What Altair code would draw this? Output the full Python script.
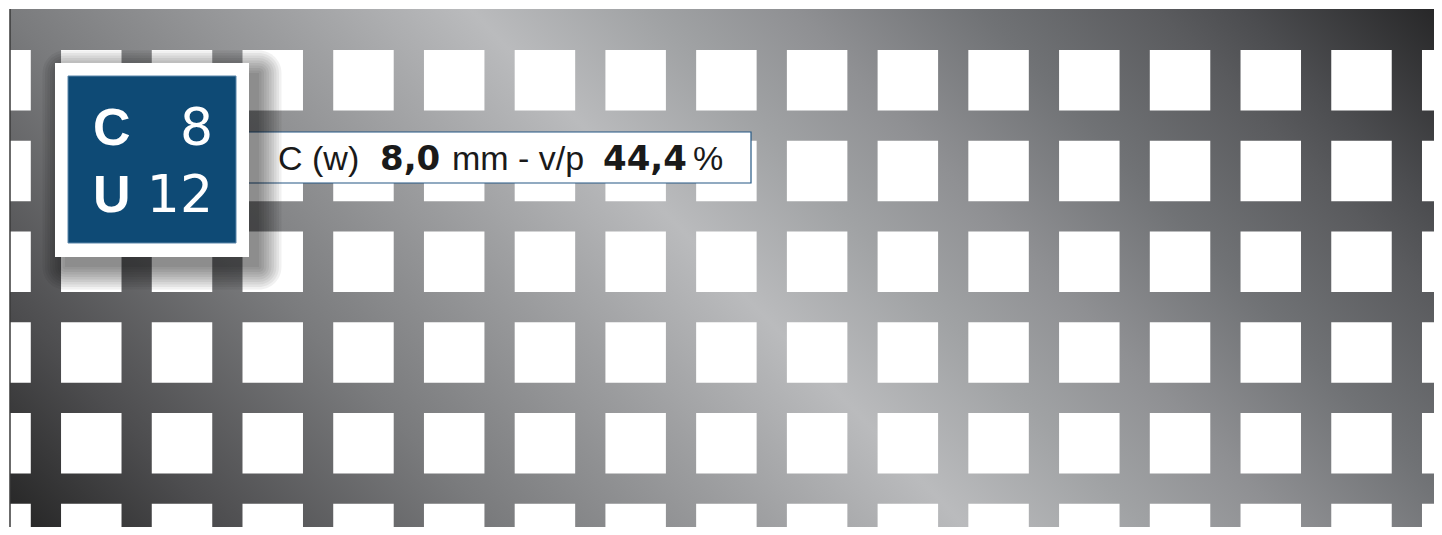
import altair as alt
import pandas as pd

# ---- data (millimetres on the plate) ----
hole_cols = [-5.25, 6.75, 18.75, 30.75, 42.75, 54.75, 66.75, 78.75, 90.75,
             102.75, 114.75, 126.75, 138.75, 150.75, 162.75, 174.75, 186.75]
hole_rows = [5.42, 17.42, 29.42, 41.42, 53.42, 65.42]
hole_size = 8.0
plate_w = 189.4
plate_h = 69.6

badge_lines = [("C", "8"), ("U", "12")]
label_parts = ["C (w)", "8,0", "mm - v/p", "44,4", "%"]
label_bold = [False, True, False, True, False]

# ---- tables ----
holes = pd.DataFrame(
    [{"x": c, "x2": c + hole_size, "y": r, "y2": r + hole_size} for r in hole_rows for c in hole_cols]
)
plate = pd.DataFrame({"x": [0.0], "x2": [plate_w], "y": [0.0], "y2": [plate_h]})
one = pd.DataFrame({"a": [0]})

PX = 90.73 / 12
W, H = 1426, 519
xs = alt.Scale(domain=[-2 / PX, (W - 2) / PX], nice=False, zero=False)
ys = alt.Scale(domain=[-1 / PX, (H - 1) / PX], nice=False, zero=False, reverse=True)

stops = [(0.0, "#232323"), (0.114, "#4d4d4f"), (0.257, "#7a7b7d"), (0.402, "#a0a1a3"),
         (0.498, "#babbbd"), (0.591, "#a0a2a4"), (0.665, "#8f9093"), (0.761, "#707275"),
         (0.853, "#5a5b5e"), (0.896, "#4c4d50"), (1.0, "#262627")]
grad = alt.LinearGradient(
    gradient="linear",
    stops=[alt.GradientStop(offset=o, color=c) for o, c in stops],
    x1=0, y1=1, x2=1.2028, y2=0.5772,
)

plate_layer = alt.Chart(plate).mark_rect(fill=grad, clip=True).encode(
    x=alt.X("x:Q", scale=xs, axis=None), x2="x2",
    y=alt.Y("y:Q", scale=ys, axis=None), y2="y2",
)
edge_layer = alt.Chart(plate).mark_rule(color="#3a3a3a", strokeWidth=1.5, clip=True).encode(
    x=alt.X("x:Q", scale=xs, axis=None),
    y=alt.Y("y:Q", scale=ys, axis=None), y2="y2",
)
hole_layer = alt.Chart(holes).mark_rect(fill="white", clip=True).encode(
    x=alt.X("x:Q", scale=xs, axis=None), x2="x2",
    y=alt.Y("y:Q", scale=ys, axis=None), y2="y2",
)

layers = [plate_layer, hole_layer, edge_layer]

# label box
layers.append(alt.Chart(one).mark_rect(fill="white", stroke="#245783", strokeWidth=1.2).encode(
    x=alt.value(236), x2=alt.value(743), y=alt.value(124), y2=alt.value(175)))
label_x = [270, 372, 444, 595, 685]
for txt, bold, lx in zip(label_parts, label_bold, label_x):
    layers.append(alt.Chart(one).mark_text(
        text=txt,
        font="DejaVu Sans" if bold else "Liberation Sans",
        fontSize=34,
        fontWeight="bold" if bold else "normal", color="#1a1a1a",
        align="left", baseline="alphabetic").encode(x=alt.value(lx), y=alt.value(162)))

# badge shadow
for i in range(10):
    e = 2.5 * i
    layers.append(alt.Chart(one).mark_rect(fill="black", opacity=0.055, cornerRadius=e).encode(
        x=alt.value(57 - e), x2=alt.value(251 + e), y=alt.value(65 - e), y2=alt.value(259 + e)))

# badge
layers.append(alt.Chart(one).mark_rect(fill="white").encode(
    x=alt.value(47), x2=alt.value(241), y=alt.value(55), y2=alt.value(249)))
layers.append(alt.Chart(one).mark_rect(fill="#0e4a75", stroke="#5b86aa", strokeWidth=1).encode(
    x=alt.value(60), x2=alt.value(228), y=alt.value(68), y2=alt.value(235)))
for (left, right), by in zip(badge_lines, [137, 204]):
    layers.append(alt.Chart(one).mark_text(
        text=left, font="Liberation Sans", fontSize=52, fontWeight="bold", color="white",
        align="left", baseline="alphabetic").encode(x=alt.value(85), y=alt.value(by)))
    layers.append(alt.Chart(one).mark_text(
        text=right, font="DejaVu Sans", fontSize=52, fontWeight="normal", color="white",
        align="right", baseline="alphabetic").encode(x=alt.value(205), y=alt.value(by)))

chart = alt.layer(*layers).properties(
    width=W, height=H, padding=0, autosize=alt.AutoSizeParams(type="none"),
    background="white",
).configure_view(strokeWidth=0)

chart.save("out.html", embed_options={"renderer": "svg", "actions": False})
